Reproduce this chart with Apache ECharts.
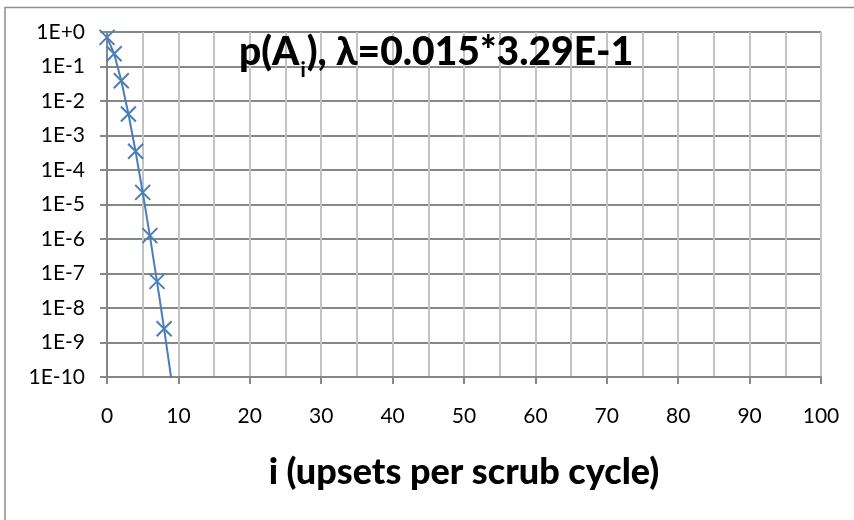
<!DOCTYPE html>
<html>
<head>
<meta charset="utf-8">
<script src="https://cdn.jsdelivr.net/npm/echarts@6/dist/echarts.min.js"></script>
<style>
html,body{margin:0;padding:0;background:#fff;}
#c{width:854px;height:520px;}
</style>
</head>
<body>
<div id="c"></div>
<script>
// data
var iValues = [0, 1, 2, 3, 4, 5, 6, 7, 8, 9];
var pValues = [0.70, 0.234, 0.0388, 4.2e-3, 3.5e-4, 2.25e-5, 1.25e-6, 5.9e-8, 2.5e-9, 9e-11];
var xTicks = [0, 10, 20, 30, 40, 50, 60, 70, 80, 90, 100];
var yTickLabels = ['1E-10','1E-9','1E-8','1E-7','1E-6','1E-5','1E-4','1E-3','1E-2','1E-1','1E+0'];

var FONT = 'Lato';
var blue = '#4A7EBB';
var seriesData = iValues.map(function (v, k) { return [v, pValues[k]]; });

var chart = echarts.init(document.getElementById('c'), null, {renderer: 'canvas'});
chart.setOption({
  backgroundColor: '#fff',
  animation: false,
  graphic: [{
    type: 'rect',
    shape: {x: 5, y: 7.5, width: 1000, height: 700},
    style: {fill: 'none', stroke: '#8f8f8f', lineWidth: 1.5},
    silent: true
  }],
  title: {
    text: 'p(A{sub|i}), λ=0.015*3.29E-1',
    left: 234,
    top: 28,
    textStyle: {
      fontFamily: FONT, fontWeight: 900, fontSize: 39, color: '#000',
      rich: {
        sub: {fontFamily: FONT, fontWeight: 900, fontSize: 20, color: '#000', verticalAlign: 'bottom', padding: [0, 1, -9, 1]}
      }
    }
  },
  grid: {left: 107, right: 33, top: 32, bottom: 143, containLabel: false},
  xAxis: {
    type: 'value',
    min: 0, max: 100, interval: 10,
    name: 'i (upsets per scrub cycle)',
    nameLocation: 'middle',
    nameGap: 77,
    nameTextStyle: {fontFamily: FONT, fontWeight: 900, fontSize: 36, color: '#000'},
    axisLine: {show: true, onZero: false, lineStyle: {color: '#878787', width: 2}},
    axisTick: {show: true, inside: false, length: 7, lineStyle: {color: '#878787', width: 2}},
    axisLabel: {fontFamily: FONT, fontSize: 21, color: '#000', margin: 29,
      formatter: function (v) { return xTicks.indexOf(v) >= 0 ? String(v) : ''; }},
    splitLine: {show: true, lineStyle: {color: '#c3c3c3', width: 2}},
    minorTick: {show: false, splitNumber: 2},
    minorSplitLine: {show: true, lineStyle: {color: '#c3c3c3', width: 2}}
  },
  yAxis: {
    type: 'log',
    logBase: 10,
    min: 1e-10, max: 1,
    interval: 1,
    axisLine: {show: true, lineStyle: {color: '#878787', width: 2}},
    axisTick: {show: true, inside: false, length: 7, lineStyle: {color: '#878787', width: 2}},
    axisLabel: {fontFamily: FONT, fontSize: 21, color: '#000', margin: 22,
      formatter: function (v) {
        var e = Math.round(Math.log(v) / Math.LN10);
        return yTickLabels[e + 10];
      }},
    splitLine: {show: true, lineStyle: {color: '#878787', width: 2}}
  },
  series: [{
    type: 'line',
    data: seriesData,
    clip: true,
    symbol: 'path://M0,0L10,10M10,0L0,10',
    symbolSize: 15,
    showAllSymbol: true,
    itemStyle: {color: 'rgba(0,0,0,0)', borderColor: blue, borderWidth: 2},
    lineStyle: {color: blue, width: 2}
  }]
});
</script>
</body>
</html>
